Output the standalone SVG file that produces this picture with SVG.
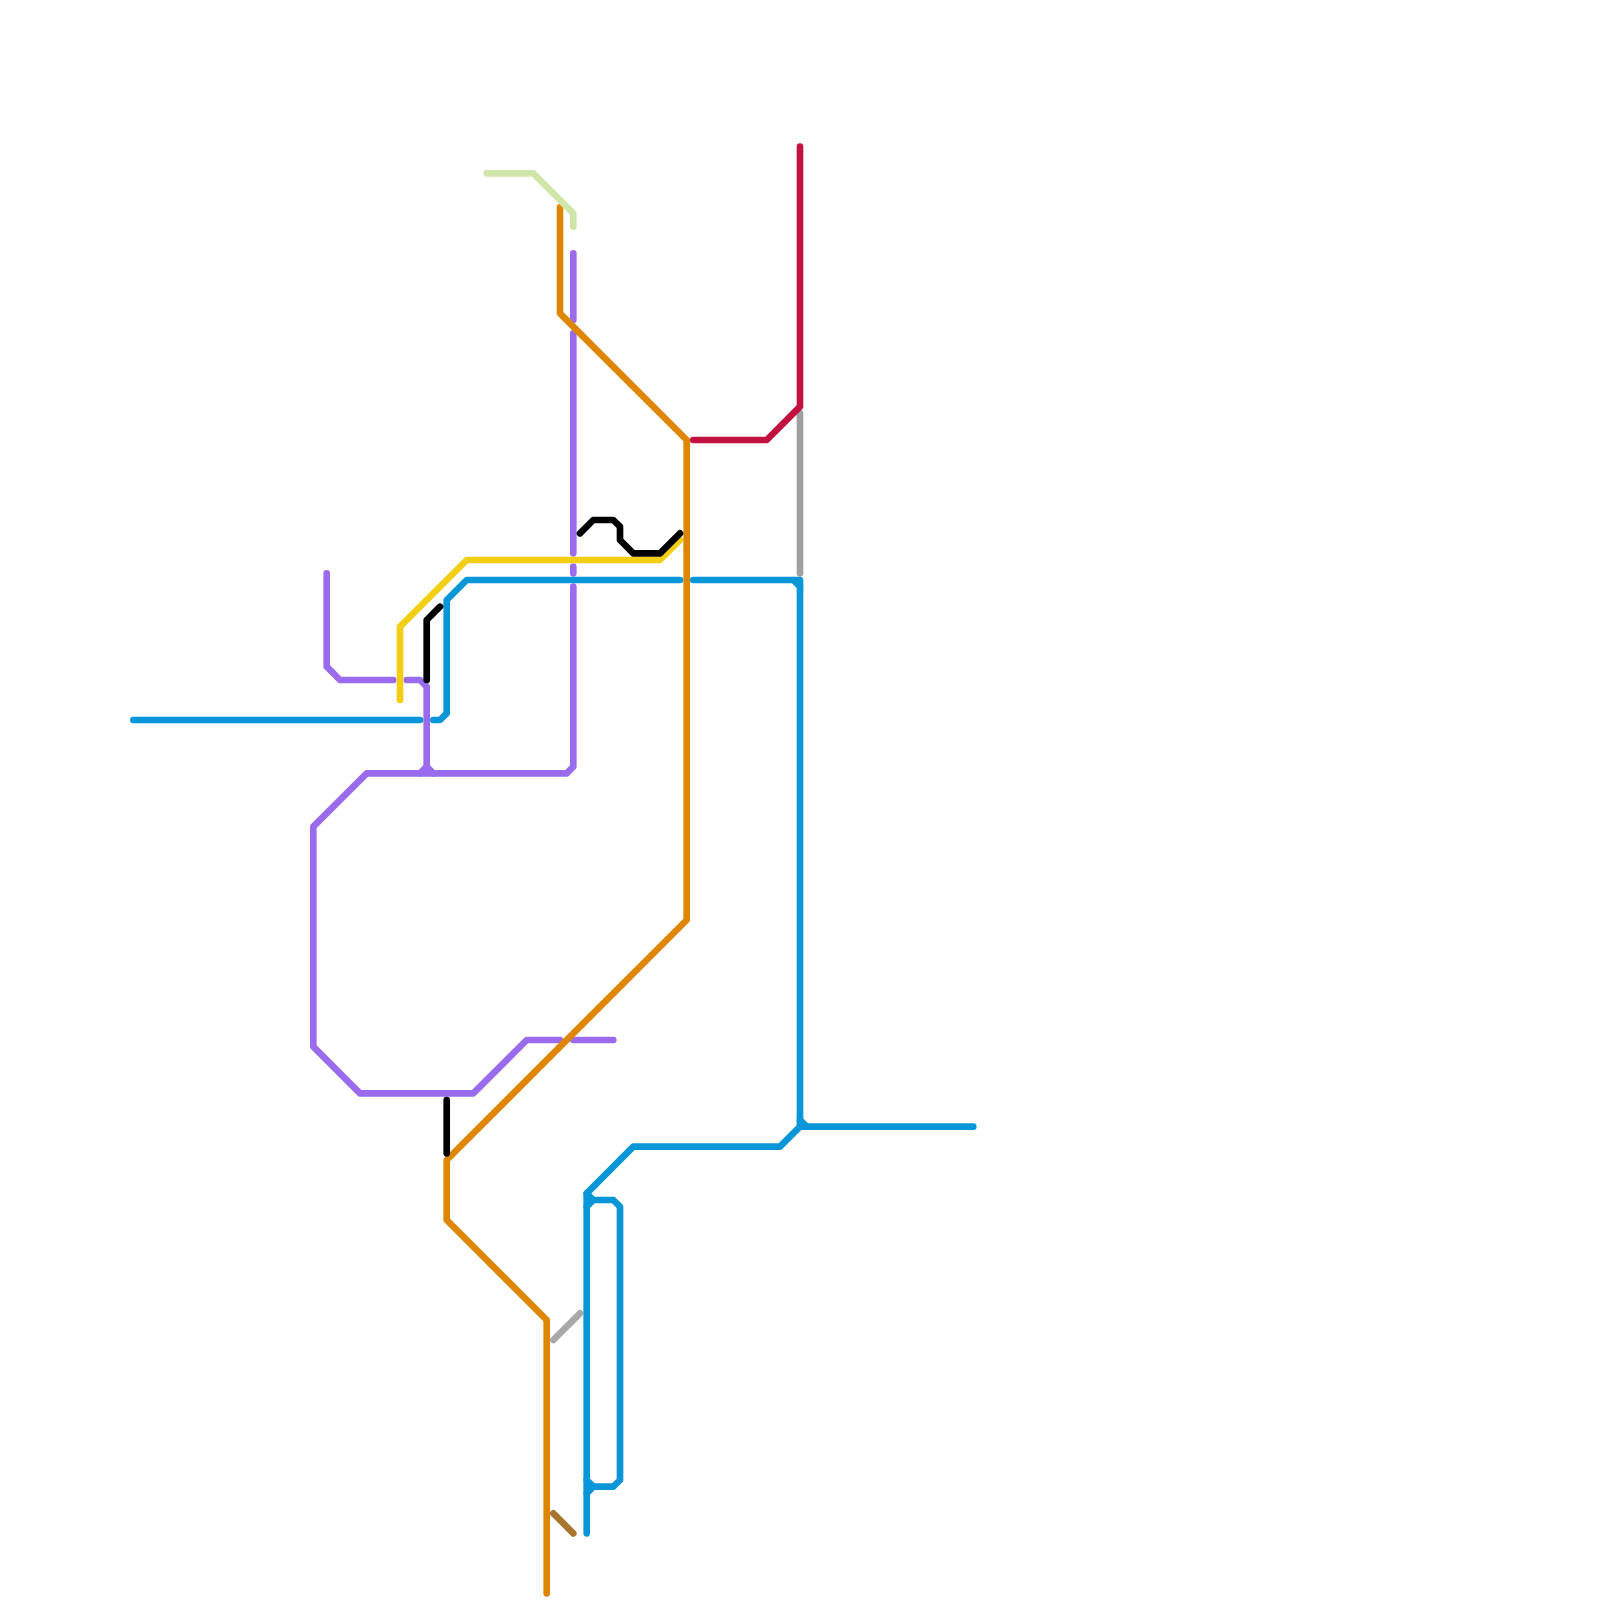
<svg xmlns="http://www.w3.org/2000/svg" width="1600" height="1600" viewBox="0 0 1600 1600">
<style>
path{fill:none;stroke-width:6.67;stroke-linecap:round;stroke-linejoin:round}
.blue{stroke:#0896d8}.orange{stroke:#df8600}.purple{stroke:#9b6bee}.yellow{stroke:#f2cf15}.green{stroke:#d0e6a8}.red{stroke:#c2103f}.gray{stroke:#a0a0a0}.black{stroke:#000}.brown{stroke:#a87430}
</style>
<rect width="1600" height="1600" fill="#fff"/>
<g id="connectors">
<g id="line-purple">
<path class="purple" d="M573.3 253.3V320"/>
<path class="purple" d="M573.3 333.3V553.3"/>
<path class="purple" d="M573.3 566.7V573.3"/>
<path class="purple" d="M573.3 586.7V766.7L566.7 773.3H366.7L313.3 826.7V1046.7L360 1093.3H473.3L526.7 1040H560"/>
<path class="purple" d="M573.3 1040H613.3"/>
<path class="purple" d="M326.7 573.3V666.7L340 680H393.3"/>
<path class="purple" d="M406.7 680H420L426.7 686.7V766.7"/>
<path class="purple" d="M420 773.3L426.7 766.7L433.3 773.3"/>
</g>
<g id="line-yellow"><path class="yellow" d="M400 700V626.7L466.7 560H660L680 540"/></g>
<g id="line-orange"><path class="orange" d="M560 207.4V313.3L686.7 440V920L446.7 1160V1220L546.7 1320V1593.3"/></g>
<g id="line-green"><path class="green" d="M486.7 173.3H533.3L573.3 213.3V226.7"/></g>
<g id="line-gray">
<path class="gray" d="M800 413.3V573.3"/>
<path class="gray" style="stroke:#a8a8a8" d="M553.3 1340L580 1313.3"/>
</g>
<g id="line-red"><path class="red" d="M693.3 440H766.7L800 406.7V146.7"/></g>
<g id="line-blue">
<path class="blue" d="M133.3 720H420"/>
<path class="blue" d="M433.3 720H440L446.7 713.3V600L466.7 580H680"/>
<path class="blue" d="M693.3 580H793.3L800 586.7V1126.7L780 1146.7H633.3L586.7 1193.3V1533.3"/>
<path class="blue" d="M793.3 580H800V586.7"/>
<path class="blue" d="M800 1120L806.7 1126.7H973.3"/>
<path class="blue" d="M800 1126.7H806.7"/>
<path class="blue" d="M586.7 1193.3L593.3 1200H613.3L620 1206.7V1480L613.3 1486.7H593.3L586.7 1493.3"/>
<path class="blue" d="M586.7 1206.7L593.3 1200"/>
<path class="blue" d="M586.7 1480L593.3 1486.7"/>
</g>
<g id="line-black">
<path class="black" d="M580 533.3L593.3 520H613.3L620 526.7V540L633.3 553.3H660L680 533.3"/>
<path class="black" d="M426.7 680V620L440 606.7"/>
<path class="black" d="M446.7 1100V1153.3"/>
</g>
<g id="line-brown"><path class="brown" d="M553.3 1513.3L573.3 1533.3"/></g>
</g>
</svg>
